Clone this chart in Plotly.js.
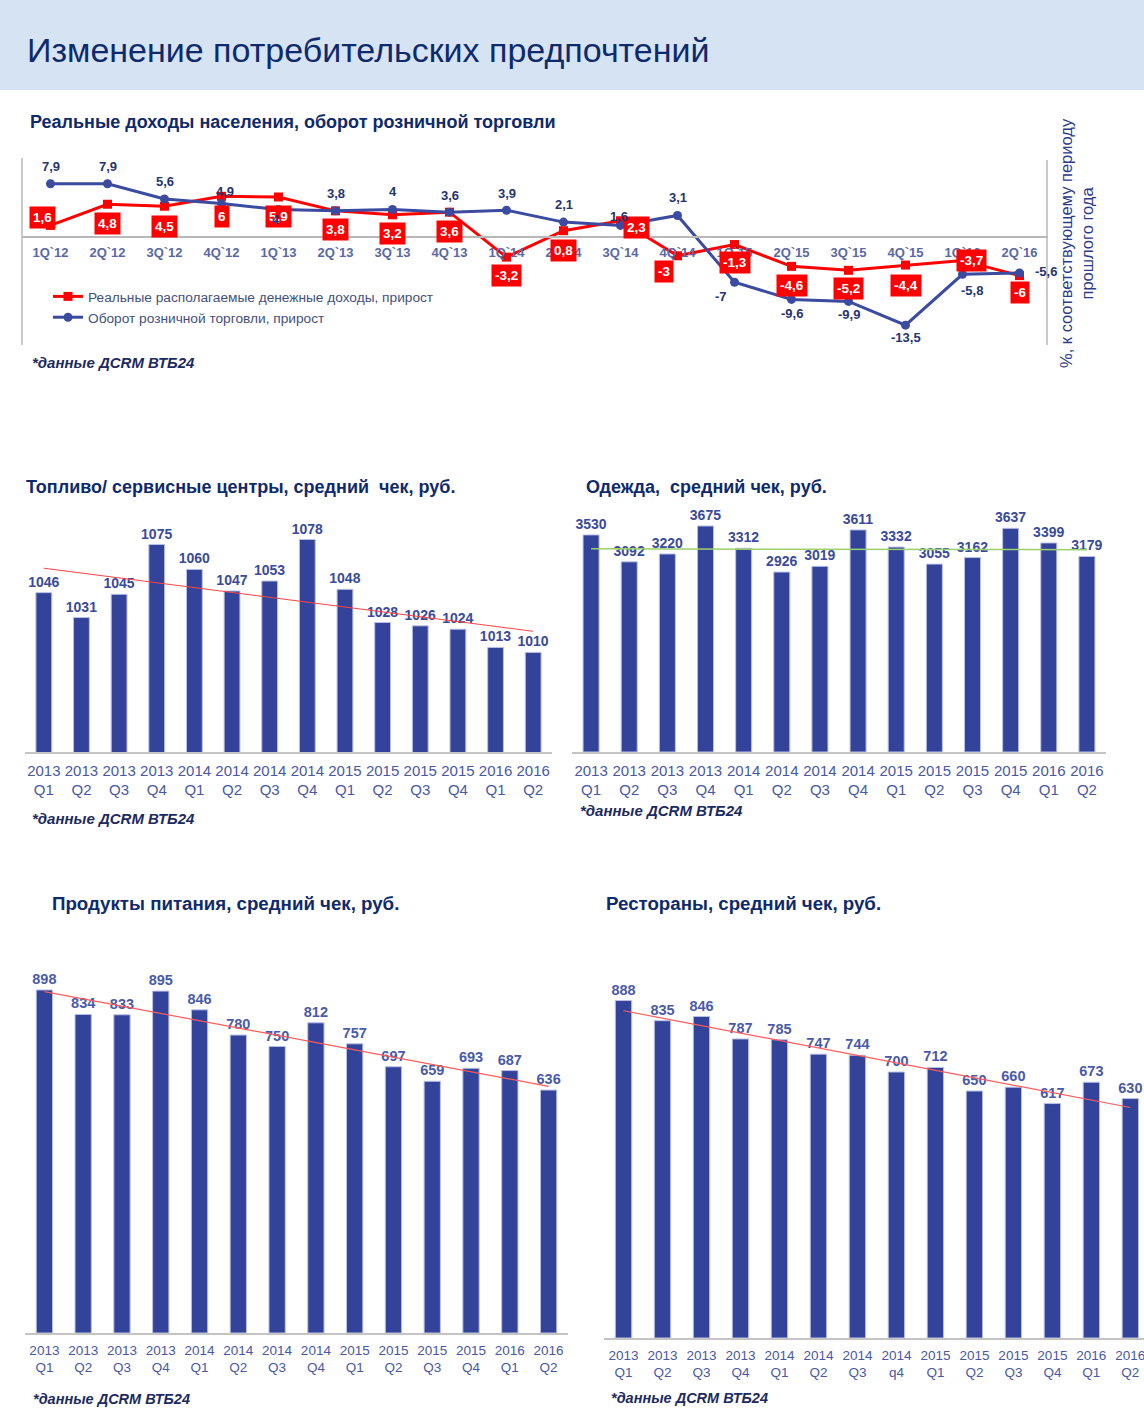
<!DOCTYPE html>
<html>
<head>
<meta charset="utf-8">
<script src="https://cdn.plot.ly/plotly-3.0.1.min.js"></script>
<style>
html,body{margin:0;padding:0;background:#fff;}
#chart{width:1144px;height:1409px;}
</style>
</head>
<body>
<div id="chart"></div>
<script>
// ---------- DATA ----------
var lineCats = ["1Q`12","2Q`12","3Q`12","4Q`12","1Q`13","2Q`13","3Q`13","4Q`13","1Q`14","2Q`14","3Q`14","4Q`14","1Q`15","2Q`15","3Q`15","4Q`15","1Q`16","2Q`16"];
var incomeVals = [1.6, 4.8, 4.5, 6, 5.9, 3.8, 3.2, 3.6, -3.2, 0.8, 2.3, -3, -1.3, -4.6, -5.2, -4.4, -3.7, -6];
var retailVals = [7.9, 7.9, 5.6, 4.9, 4, 3.8, 4, 3.6, 3.9, 2.1, 1.6, 3.1, -7, -9.6, -9.9, -13.5, -5.8, -5.6];

var barCats = ["2013<br>Q1","2013<br>Q2","2013<br>Q3","2013<br>Q4","2014<br>Q1","2014<br>Q2","2014<br>Q3","2014<br>Q4","2015<br>Q1","2015<br>Q2","2015<br>Q3","2015<br>Q4","2016<br>Q1","2016<br>Q2"];
var restCats = ["2013<br>Q1","2013<br>Q2","2013<br>Q3","2013<br>Q4","2014<br>Q1","2014<br>Q2","2014<br>Q3","2014<br>q4","2015<br>Q1","2015<br>Q2","2015<br>Q3","2015<br>Q4","2016<br>Q1","2016<br>Q2"];
var fuelVals = [1046, 1031, 1045, 1075, 1060, 1047, 1053, 1078, 1048, 1028, 1026, 1024, 1013, 1010];
var clothVals = [3530, 3092, 3220, 3675, 3312, 2926, 3019, 3611, 3332, 3055, 3162, 3637, 3399, 3179];
var foodVals = [898, 834, 833, 895, 846, 780, 750, 812, 757, 697, 659, 693, 687, 636];
var restVals = [888, 835, 846, 787, 785, 747, 744, 700, 712, 650, 660, 617, 673, 630];

// ---------- STYLE ----------
var W = 1144, H = 1409;
function px(x){ return x / W; }
function py(y){ return 1 - y / H; }
var NAVY = '#0f2a6b';
var BAR = '#33439a';
var RED = '#ff0000';
var BLUE = '#3b4ba0';
var FONT = 'Liberation Sans, Arial, sans-serif';

// label offsets (pixels) for the line chart labels
var incomeShift = [[-8,8],[0,-19],[0,-20],[0,-20],[0,-20],[0,-19],[0,-19],[0,-19],[0,-18],[0,-20],[16,-7],[-14,-16],[0,-18],[0,-19],[0,-18],[0,-20],[9,0],[0,-17]];
var retailShift = [[0,17],[0,17],[0,17],[3,12],[-3,-10],[0,17],[0,18],[0,17],[0,17],[0,18],[-2,9],[0,18],[-14,-14],[0,-14],[0,-13],[0,-12],[9,-16],[26,1]];

function fmt(v){ return String(v).replace('.', ','); }

function trend(vals){
  var n = vals.length, sx=0, sy=0, sxy=0, sxx=0;
  for (var i=0;i<n;i++){ sx+=i; sy+=vals[i]; sxy+=i*vals[i]; sxx+=i*i; }
  var b = (n*sxy - sx*sy)/(n*sxx - sx*sx);
  var a = (sy - b*sx)/n;
  return [a, a + b*(n-1)];
}

var traces = [];
traces.push({
  type:'scatter', mode:'lines+markers', x:lineCats, y:incomeVals, xaxis:'x', yaxis:'y',
  name:'Реальные располагаемые денежные доходы, прирост',
  line:{color:RED, width:3}, marker:{symbol:'square', size:9, color:RED}, cliponaxis:false
});
traces.push({
  type:'scatter', mode:'lines+markers', x:lineCats, y:retailVals, xaxis:'x', yaxis:'y',
  name:'Оборот розничной торговли, прирост',
  line:{color:BLUE, width:3}, marker:{symbol:'circle', size:9, color:BLUE}, cliponaxis:false
});

function addBars(cats, vals, xa, ya, tcolor, tsize, trendColor, trendWidth){
  traces.push({
    type:'bar', x:cats, y:vals, xaxis:xa, yaxis:ya, showlegend:false,
    marker:{color:BAR, line:{color:'#b9c0e6', width:1}},
    text: vals.map(String), textposition:'outside', constraintext:'none', cliponaxis:false,
    textfont:{family:FONT, size:tsize, color:tcolor, weight:'bold'}, hoverinfo:'skip'
  });
  var t = trend(vals);
  traces.push({
    type:'scatter', mode:'lines', x:[cats[0], cats[cats.length-1]], y:t, xaxis:xa, yaxis:ya,
    showlegend:false, line:{color:trendColor, width:trendWidth}, hoverinfo:'skip'
  });
}
addBars(barCats, fuelVals, 'x2', 'y2', '#3a4a9c', 14, '#ff4444', 1);
addBars(barCats, clothVals, 'x3', 'y3', '#3a4a9c', 14, '#9cd068', 1.5);
addBars(barCats, foodVals, 'x4', 'y4', '#4a5aaa', 14.5, '#ff5a5a', 1.2);
addBars(restCats, restVals, 'x5', 'y5', '#4a5aaa', 14.5, '#ff5a5a', 1.2);

var ann = [];
function textAnn(text, x, y, size, color){
  return {xref:'paper', yref:'paper', x:px(x), y:py(y), text:text, showarrow:false,
    xanchor:'left', yanchor:'middle', font:{family:FONT, size:size, color:color}};
}
ann.push(textAnn('Изменение потребительских предпочтений', 25, 50, 34, NAVY));
ann.push(textAnn('<b>Реальные доходы населения, оборот розничной торговли</b>', 28, 122, 18, NAVY));
ann.push(textAnn('<b><i>*данные ДСRM ВТБ24</i></b>', 30, 362, 15, '#1c2a60'));
ann.push(textAnn('<b>Топливо/ сервисные центры, средний  чек, руб.</b>', 24, 487, 18, NAVY));
ann.push(textAnn('<b><i>*данные ДСRM ВТБ24</i></b>', 30, 818, 15, '#1c2a60'));
ann.push(textAnn('<b>Одежда,  средний чек, руб.</b>', 584, 487, 18, NAVY));
ann.push(textAnn('<b><i>*данные ДСRM ВТБ24</i></b>', 578, 810, 15, '#1c2a60'));
ann.push(textAnn('<b>Продукты питания, средний чек, руб.</b>', 50, 903, 18.7, NAVY));
ann.push(textAnn('<b><i>*данные ДСRM ВТБ24</i></b>', 31, 1399, 14.5, '#1c2a60'));
ann.push(textAnn('<b>Рестораны, средний чек, руб.</b>', 604, 903, 18.7, NAVY));
ann.push(textAnn('<b><i>*данные ДСRM ВТБ24</i></b>', 609, 1398, 14.5, '#1c2a60'));
ann.push({xref:'paper', yref:'paper', x:px(1077), y:py(243), text:'%, к соответствующему периоду<br>прошлого года',
  showarrow:false, textangle:-90, xanchor:'center', yanchor:'middle', align:'center',
  font:{family:FONT, size:16.5, color:'#2b3a8a'}});

for (var i=0;i<lineCats.length;i++){
  ann.push({xref:'x', yref:'y', x:lineCats[i], y:incomeVals[i], text:'<b>'+fmt(incomeVals[i])+'</b>',
    showarrow:false, xshift:incomeShift[i][0], yshift:incomeShift[i][1], bgcolor:RED, borderpad:3,
    font:{family:FONT, size:13.5, color:'#ffffff'}});
  ann.push({xref:'x', yref:'y', x:lineCats[i], y:retailVals[i], text:'<b>'+fmt(retailVals[i])+'</b>',
    showarrow:false, xshift:retailShift[i][0], yshift:retailShift[i][1],
    font:{family:FONT, size:13, color:'#26346f'}});
}

var shapes = [
  {type:'rect', xref:'paper', yref:'paper', x0:0, x1:1, y0:py(90), y1:1, fillcolor:'#d5e3f2', line:{width:0}, layer:'below'},
  {type:'line', xref:'paper', yref:'paper', x0:px(22), x1:px(22), y0:py(158), y1:py(345), line:{color:'#b8b8b8', width:1.5}},
  {type:'line', xref:'paper', yref:'paper', x0:px(1047), x1:px(1047), y0:py(160), y1:py(345), line:{color:'#b8b8b8', width:1.5}}
];

function barX(dom, size, range, anchor){
  var o = {domain:dom, type:'category', anchor:anchor, showline:true, linecolor:'#c4c4c4', linewidth:1.5,
    showgrid:false, zeroline:false, ticks:'', fixedrange:true, ticklabelstandoff:4,
    tickfont:{family:FONT, size:size, color:'#4858a6'}};
  o.range = range || [-0.5, 13.5];
  return o;
}
function barY(dom, range, anchor){
  return {domain:dom, range:range, anchor:anchor, visible:false, showgrid:false, zeroline:false, fixedrange:true};
}

var layout = {
  width:W, height:H, margin:{l:0, r:0, t:0, b:0}, paper_bgcolor:'#ffffff', plot_bgcolor:'rgba(0,0,0,0)',
  font:{family:FONT},
  showlegend:true,
  legend:{x:px(48), y:py(281), xanchor:'left', yanchor:'top', bgcolor:'rgba(0,0,0,0)',
    font:{family:FONT, size:13.7, color:'#43507f'}, tracegroupgap:0, itemwidth:30},
  xaxis:{domain:[px(22), px(1048)], type:'category', range:[-0.5, 17.5], anchor:'free', position:py(236),
    showline:true, linecolor:'#b8b8b8', linewidth:1.5, showgrid:false, zeroline:false, ticks:'', ticklabelstandoff:4,
    tickfont:{family:FONT, size:13, color:'#5a68a4', weight:'bold'}, fixedrange:true},
  yaxis:{domain:[py(345), py(158)], range:[-16.5, 11.8], visible:false, showgrid:false, zeroline:false, fixedrange:true},
  xaxis2: barX([px(25), px(552)], 15, null, 'y2'),
  yaxis2: barY([py(752), py(503)], [950, 1100], 'x2'),
  xaxis3: barX([px(572), px(1106)], 15, null, 'y3'),
  yaxis3: barY([py(752), py(506)], [0, 4000], 'x3'),
  xaxis4: barX([px(25), px(568)], 13.5, null, 'y4'),
  yaxis4: barY([py(1333), py(951)], [0, 1000], 'x4'),
  xaxis5: barX([px(604), 1], 13.5, [-0.5, 13.35], 'y5'),
  yaxis5: barY([py(1338), py(958)], [0, 1000], 'x5'),
  bargap:0.58,
  annotations:ann,
  shapes:shapes
};

Plotly.newPlot('chart', traces, layout, {displayModeBar:false, staticPlot:true});
</script>
</body>
</html>
